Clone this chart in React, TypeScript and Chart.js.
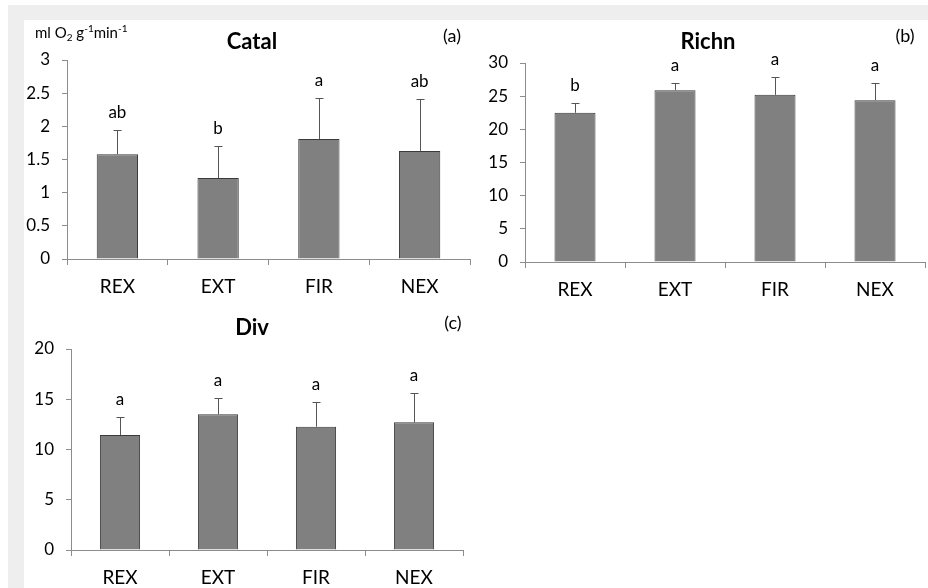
import React, { useEffect, useRef } from "react";
import { Chart, registerables } from "chart.js";

Chart.register(...registerables);

const categories = ["REX", "EXT", "FIR", "NEX"];

const catalMean = [1.58, 1.22, 1.81, 1.63];
const catalSd = [0.37, 0.48, 0.62, 0.78];
const catalLetters = ["ab", "b", "a", "ab"];
const catalTicks = { min: 0, max: 3, step: 0.5 };

const richnMean = [22.5, 25.9, 25.2, 24.4];
const richnSd = [1.4, 1.1, 2.7, 2.6];
const richnLetters = ["b", "a", "a", "a"];
const richnTicks = { min: 0, max: 30, step: 5 };

const divMean = [11.45, 13.5, 12.27, 12.7];
const divSd = [1.8, 1.65, 2.5, 2.9];
const divLetters = ["a", "a", "a", "a"];
const divTicks = { min: 0, max: 20, step: 5 };

const FONT = "Lato, 'Open Sans', sans-serif";
const AXIS = "#8c8c8c";

type PanelProps = {
  left: number;
  top: number;
  width: number;
  height: number;
  plot: { left: number; top: number; right: number; bottom: number };
  title: string;
  titlePos: [number, number];
  tag: string;
  tagPos: [number, number];
  means: number[];
  sds: number[];
  letters: string[];
  ticks: { min: number; max: number; step: number };
  unit?: boolean;
};

function Panel(p: PanelProps) {
  const ref = useRef<HTMLCanvasElement | null>(null);
  useEffect(() => {
    if (!ref.current) return;
    const annot = {
      id: "annot",
      afterDatasetsDraw(chart: any) {
        const ctx = chart.ctx;
        const meta = chart.getDatasetMeta(0);
        const ys = chart.scales.y;
        ctx.save();
        meta.data.forEach((bar: any, i: number) => {
          const yv = ys.getPixelForValue(p.means[i]);
          const ye = ys.getPixelForValue(p.means[i] + p.sds[i]);
          const x = Math.round(bar.x) + 0.5;
          ctx.strokeStyle = "#555555";
          ctx.lineWidth = 1;
          ctx.beginPath();
          ctx.moveTo(x, yv);
          ctx.lineTo(x, Math.round(ye) + 0.5);
          ctx.moveTo(x - 4, Math.round(ye) + 0.5);
          ctx.lineTo(x + 4, Math.round(ye) + 0.5);
          ctx.stroke();
          ctx.fillStyle = "#000";
          ctx.font = "17px " + FONT;
          ctx.textAlign = "center";
          ctx.textBaseline = "alphabetic";
          ctx.fillText(p.letters[i], bar.x, ye - 12);
        });
        ctx.fillStyle = "#000";
        ctx.font = "bold 22px " + FONT;
        ctx.textAlign = "center";
        ctx.textBaseline = "middle";
        ctx.fillText(p.title, p.titlePos[0], p.titlePos[1]);
        ctx.font = "18px " + FONT;
        ctx.fillText(p.tag, p.tagPos[0], p.tagPos[1]);
        if (p.unit) {
          let x = 11;
          const base = 18;
          ctx.textAlign = "left";
          ctx.textBaseline = "alphabetic";
          const parts: [string, number, number][] = [
            ["ml O", 15, 0],
            ["2", 10, 3],
            [" g", 15, 0],
            ["-1", 10, -6],
            ["min", 15, 0],
            ["-1", 10, -6],
          ];
          parts.forEach(([t, s, dy]) => {
            ctx.font = s + "px " + FONT;
            ctx.fillText(t, x, base + dy);
            x += ctx.measureText(t).width;
          });
        }
        ctx.restore();
      },
    };
    const chart = new Chart(ref.current, {
      type: "bar",
      data: {
        labels: categories,
        datasets: [
          {
            data: p.means,
            backgroundColor: "#808080",
            borderColor: "#3a3a3a",
            borderWidth: 1,
            barPercentage: 0.41,
            categoryPercentage: 1,
          },
        ],
      },
      options: {
        animation: false,
        responsive: false,
        devicePixelRatio: 1,
        layout: {
          padding: {
            left: 0,
            top: p.plot.top,
            right: p.width - p.plot.right,
            bottom: 0,
          },
        },
        plugins: {
          legend: { display: false },
          title: { display: false },
          tooltip: { enabled: false },
        },
        scales: {
          x: {
            offset: true,
            grid: {
              display: true,
              drawOnChartArea: false,
              drawTicks: true,
              tickLength: 6,
              color: AXIS,
              offset: true,
            },
            border: { display: true, color: AXIS },
            ticks: {
              color: "#000",
              font: { family: FONT, size: 19 },
              padding: 10,
              maxRotation: 0,
            },
            afterFit: (s: any) => {
              s.height = p.height - p.plot.bottom;
            },
          },
          y: {
            min: p.ticks.min,
            max: p.ticks.max,
            grid: {
              display: true,
              drawOnChartArea: false,
              drawTicks: true,
              tickLength: 5,
              color: AXIS,
            },
            border: { display: true, color: AXIS },
            ticks: {
              stepSize: p.ticks.step,
              color: "#000",
              font: { family: FONT, size: 17 },
              padding: 12,
              callback: (v: any) => String(v),
            },
            afterFit: (s: any) => {
              s.width = p.plot.left;
            },
          },
        },
      },
      plugins: [annot],
    } as any);
    return () => chart.destroy();
  }, []);
  return (
    <canvas
      ref={ref}
      width={p.width}
      height={p.height}
      style={{
        position: "absolute",
        left: p.left,
        top: p.top,
        width: p.width,
        height: p.height,
      }}
    />
  );
}

export default function App() {
  return (
    <div
      style={{
        position: "fixed",
        left: 0,
        top: 0,
        width: 928,
        height: 588,
        background: "#fff",
        overflow: "hidden",
      }}
    >
      <div style={{ position: "absolute", left: 8, top: 5, width: 920, height: 15, background: "#eeeeee" }} />
      <div style={{ position: "absolute", left: 8, top: 20, width: 16, height: 568, background: "#eeeeee" }} />
      <Panel
        left={24}
        top={20}
        width={450}
        height={290}
        plot={{ left: 43, top: 40, right: 446, bottom: 239 }}
        title="Catal"
        titlePos={[228, 22]}
        tag="(a)"
        tagPos={[428, 16]}
        means={catalMean}
        sds={catalSd}
        letters={catalLetters}
        ticks={catalTicks}
        unit
      />
      <Panel
        left={474}
        top={20}
        width={454}
        height={290}
        plot={{ left: 51, top: 43, right: 451, bottom: 242 }}
        title="Richn"
        titlePos={[234, 22]}
        tag="(b)"
        tagPos={[431, 16]}
        means={richnMean}
        sds={richnSd}
        letters={richnLetters}
        ticks={richnTicks}
      />
      <Panel
        left={24}
        top={300}
        width={450}
        height={288}
        plot={{ left: 47, top: 49, right: 439, bottom: 250 }}
        title="Div"
        titlePos={[228, 28]}
        tag="(c)"
        tagPos={[429, 23]}
        means={divMean}
        sds={divSd}
        letters={divLetters}
        ticks={divTicks}
      />
    </div>
  );
}
